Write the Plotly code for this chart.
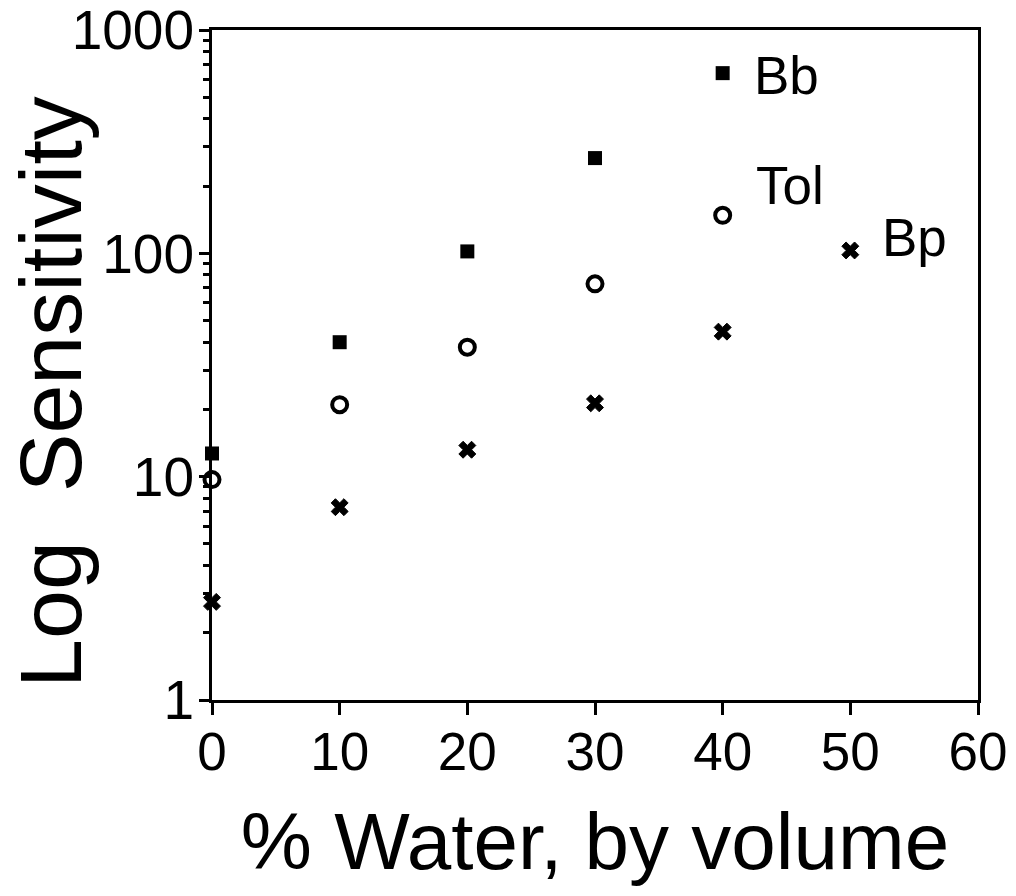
import math
import plotly.graph_objects as go

water_pct = [0, 10, 20, 30, 40, 50]
bb = [12.7, 40, 102, 267, 641]
tol = [9.7, 21, 38, 73, 148]
bp = [2.75, 7.3, 13.2, 21.3, 44.6, 103]

series_labels = ["Bb", "Tol", "Bp"]
ytick_vals = [1, 10, 100, 1000]
ytick_text = ["1", "10", "100", "1000"]
xtick_vals = [0, 10, 20, 30, 40, 50, 60]

FONT = "Liberation Sans, Arial, Helvetica, sans-serif"

fig = go.Figure()
fig.add_trace(go.Scatter(x=water_pct[:len(bb)], y=bb, mode="markers", name="Bb",
                         marker=dict(symbol="square", size=14, color="black"),
                         cliponaxis=False))
fig.add_trace(go.Scatter(x=water_pct[:len(tol)], y=tol, mode="markers", name="Tol",
                         marker=dict(symbol="circle-open", size=15, color="black",
                                     line=dict(width=4, color="black")),
                         cliponaxis=False))
fig.add_trace(go.Scatter(x=water_pct[:len(bp)], y=bp, mode="markers", name="Bp",
                         marker=dict(symbol="x", size=15, color="black",
                                     line=dict(width=1, color="black")),
                         cliponaxis=False))

label_pos = [(water_pct[len(bb) - 1], bb[-1], 29, -2),
             (water_pct[len(tol) - 1], tol[-1], 31, 30),
             (water_pct[len(bp) - 1], bp[-1], 30, 13)]
annotations = []
for name, (xv, yv, dx, dy) in zip(series_labels, label_pos):
    annotations.append(dict(x=xv, y=math.log10(yv), xref="x", yref="y",
                            text=name, showarrow=False, xanchor="left", yanchor="middle",
                            xshift=dx, yshift=dy,
                            font=dict(family=FONT, size=53, color="black")))

annotations.append(dict(x=(50 - 212) / 766, y=(700 - 392) / 670, xref="paper", yref="paper",
                        text="Log\u00a0\u00a0Sensitivity", textangle=-90, showarrow=False,
                        xanchor="center", yanchor="middle",
                        font=dict(family=FONT, size=88, color="black")))

fig.update_layout(
    width=1016, height=896,
    margin=dict(l=212, r=38, t=30, b=196, autoexpand=False),
    paper_bgcolor="white", plot_bgcolor="white",
    showlegend=False,
    annotations=annotations,
    font=dict(family=FONT, color="black"),
)

fig.update_xaxes(
    range=[0, 60], tickvals=xtick_vals, ticktext=[str(v) for v in xtick_vals],
    showgrid=False, zeroline=False, automargin=False,
    showline=True, linecolor="black", linewidth=3, mirror=True,
    ticks="outside", ticklen=12, tickwidth=3, tickcolor="black",
    tickfont=dict(family=FONT, size=53, color="black"),
    ticklabelstandoff=-9, ticklabeloverflow="allow",
    title=dict(text="% Water, by volume", font=dict(family=FONT, size=80, color="black"),
               standoff=34),
)

fig.update_yaxes(
    type="log", range=[0, 3], tickvals=ytick_vals, ticktext=ytick_text,
    showgrid=False, zeroline=False, automargin=False,
    showline=True, linecolor="black", linewidth=3, mirror=True,
    ticks="outside", ticklen=10, tickwidth=3, tickcolor="black",
    tickfont=dict(family=FONT, size=55, color="black"),
    ticklabelstandoff=-6, ticklabeloverflow="allow",
    minor=dict(ticks="outside", ticklen=6, tickwidth=3, tickcolor="black",
               dtick="D1", showgrid=False),
)

fig.write_html("out.html")
